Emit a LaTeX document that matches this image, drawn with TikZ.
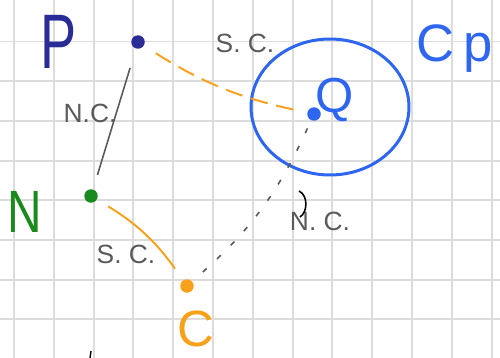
\documentclass[tikz,border=0pt]{standalone}
\usepackage{fontspec}
\setmainfont{Liberation Sans}
\usetikzlibrary{positioning,shapes.geometric}
\definecolor{inknavy}{HTML}{2A2C96}
\definecolor{inkblue}{HTML}{2E66F2}
\definecolor{inkgreen}{HTML}{1B8A1E}
\definecolor{inkorange}{HTML}{F9A11B}
\definecolor{inkgray}{HTML}{5A5A5A}
\definecolor{gridgray}{HTML}{DCDCDC}
\tikzset{
  gridline/.style={draw=gridgray,line width=1.1pt},
  inkdot/.style={circle,fill=#1,inner sep=0pt,minimum size=.27cm},
  bigletter/.style={text=#1,inner sep=0pt},
  note/.style={text=inkgray,inner sep=0pt,font=\fontsize{15}{15}\selectfont},
  scline/.style={draw=inkorange,line width=1.1pt},
  ncline/.style={draw=inkgray,line width=.9pt},
}

\begin{document}
\begin{tikzpicture}[x=0.02cm,y=-0.02cm]
			\useasboundingbox (0,0) rectangle (500,358);
			\fill[white] (0,0) rectangle (500,358);
			
			% grid paper
			\foreach \gx in {0,...,12}
			\draw[gridline] (14+39.8*\gx,0) -- (14+39.8*\gx,358);
			\foreach \gy in {0,...,7}
			\draw[gridline] (0,41.5+39.7*\gy) -- (500,41.5+39.7*\gy);
			
			% points
			\node[inkdot=inknavy] (p) at (138,42) {};
			\node[inkdot=inkblue] (q) at (314,114) {};
			\node[inkdot=inkgreen] (n) at (91,196) {};
			\node[inkdot=inkorange] (c) at (187,286) {};
			
			% circle round Q
			\node[ellipse,draw=inkblue,line width=1.7pt,minimum width=3.16cm,minimum height=2.72cm] (cp) at (330,107) {};
			
			% names
			\node[bigletter=inknavy,font=\fontsize{44}{44}\selectfont] (plabel) at (59,42) {\scalebox{.7}[1]{P}};
			\node[bigletter=inkblue,font=\fontsize{28}{28}\selectfont] (qlabel) at (335,100) {Q};
			\node[bigletter=inkblue,font=\fontsize{30}{30}\selectfont,anchor=base west] (cplabel) at (416,62) {C\kern5pt p};
			\node[bigletter=inkgreen,font=\fontsize{34}{34}\selectfont] (nlabel) at (25,212) {\scalebox{.8}[1]{N}};
			\node[bigletter=inkorange,font=\fontsize{29}{29}\selectfont,anchor=north west] (clabel) at (177,311) {C};
			
			% connectors
			\draw[scline,dash pattern=on 10pt off 5pt,shorten <=.28cm,shorten >=.26cm] (p) to[bend right=10] (q);
			\draw[ncline,shorten <=.4cm,shorten >=.3cm] (p) -- (n);
			\draw[scline,shorten <=.26cm,shorten >=.28cm] (n) to[bend left=12] (c);
			\draw[ncline,dash pattern=on 3pt off 8pt,shorten <=.28cm,shorten >=.14cm] (c) to[bend right=12] (q);
			
			% labels
			\node[note] (pn) at (90,113) {N.C.};
			\node[note] (pq) at (245,43) {S. C.};
			\node[note] (nc) at (126,254) {S. C.};
			\node[note] (cq) at (320,221) {N. C.};
			
			% stray pen marks
			\draw[black,line width=.9pt] (299,191) .. controls (308,195) and (308,212) .. (300,217);
			\draw[black,line width=.8pt] (91,351) -- (90,358);
		\end{tikzpicture}
\end{document}
